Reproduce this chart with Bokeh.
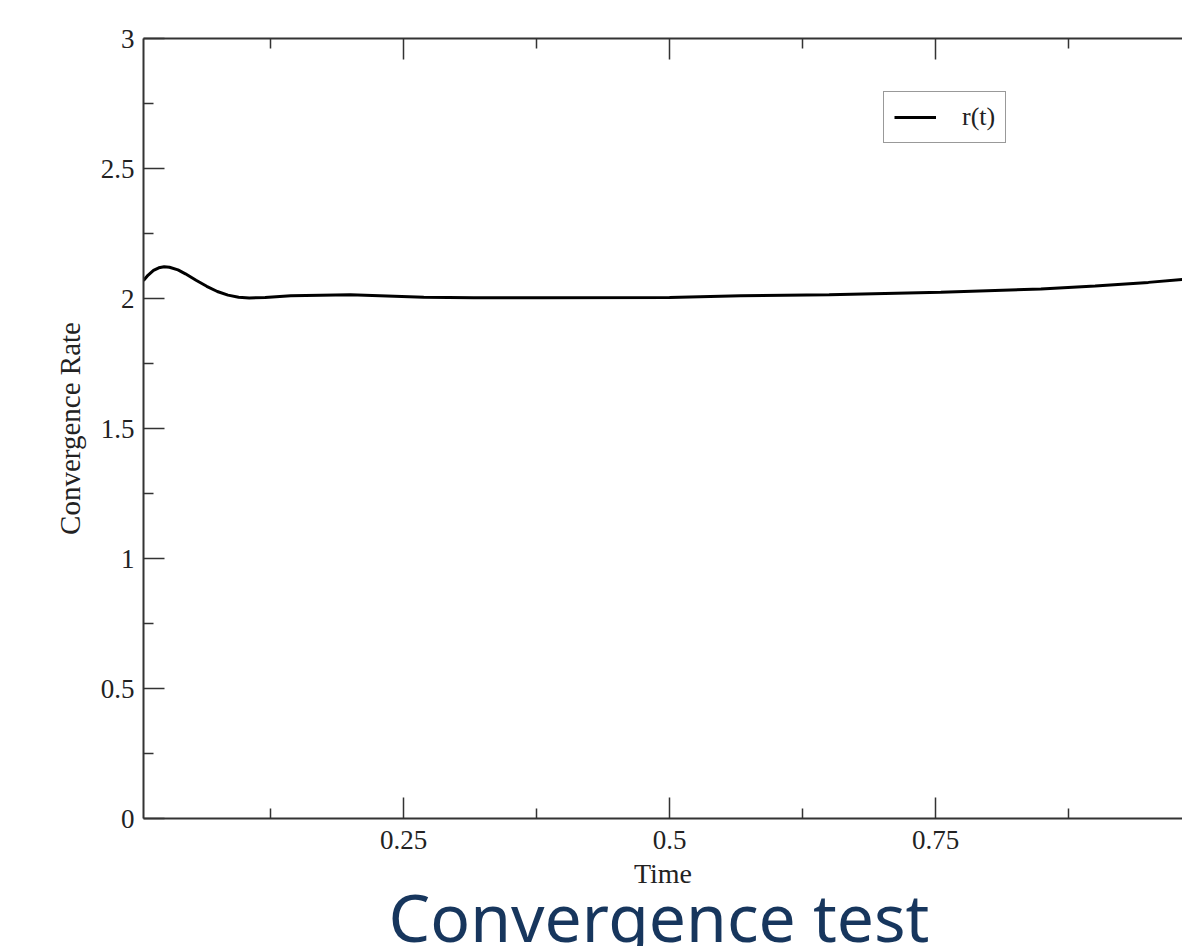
from bokeh.plotting import figure
from bokeh.models import (Range1d, FixedTicker, LinearAxis, CustomJSTickFormatter,
                          Legend, LegendItem, Title)
from bokeh.embed import file_html
from bokeh.resources import INLINE

# ---- data ----
time = [0.0056, 0.010, 0.015, 0.020, 0.025, 0.030, 0.038, 0.045, 0.055, 0.065,
        0.075, 0.085, 0.095, 0.105, 0.120, 0.144, 0.200, 0.269, 0.316, 0.379,
        0.500, 0.567, 0.650, 0.755, 0.849, 0.900, 0.950, 0.982, 1.0]
rate = [2.069, 2.090, 2.108, 2.118, 2.122, 2.120, 2.110, 2.095, 2.070, 2.047,
        2.027, 2.013, 2.005, 2.002, 2.004, 2.011, 2.014, 2.005, 2.003, 2.003,
        2.004, 2.011, 2.014, 2.024, 2.037, 2.048, 2.062, 2.073, 2.080]
series_label = "r(t)"
x_major = [0.0, 0.25, 0.5, 0.75, 1.0]
x_minor = [0.125, 0.375, 0.625, 0.875]
y_major = [0.0, 0.5, 1.0, 1.5, 2.0, 2.5, 3.0]
y_minor = [0.25, 0.75, 1.25, 1.75, 2.25, 2.75]
x_title = "Time"
y_title = "Convergence Rate"
caption = "Convergence test"

SERIF = "Liberation Serif"
AX = "#333333"

p = figure(width=1182, height=946, output_backend="svg", toolbar_location=None,
           x_range=Range1d(0.0056, 0.9821), y_range=Range1d(0, 3),
           x_axis_location=None, y_axis_location=None,
           min_border_left=143, min_border_right=0, min_border_top=38,
           min_border_bottom=128)
p.outline_line_color = None
p.xgrid.visible = False
p.ygrid.visible = False
p.background_fill_color = "white"
p.border_fill_color = "white"

fmt = CustomJSTickFormatter(code="return tick.toString();")

def style(ax, labels=True, label_size="28px"):
    ax.axis_line_color = AX
    ax.axis_line_width = 2
    ax.major_tick_line_color = AX
    ax.minor_tick_line_color = AX
    ax.major_tick_line_width = 1.5
    ax.minor_tick_line_width = 1.5
    ax.major_tick_in = 21
    ax.major_tick_out = 0
    ax.minor_tick_in = 10
    ax.minor_tick_out = 0
    ax.major_label_text_font = SERIF
    ax.major_label_text_font_size = "27px" if labels else "0px"
    ax.major_label_text_color = "#222222"
    ax.axis_label_text_font = SERIF
    ax.axis_label_text_font_size = label_size
    ax.axis_label_text_font_style = "normal"
    ax.axis_label_text_color = "#222222"

xb = LinearAxis(ticker=FixedTicker(ticks=x_major, minor_ticks=x_minor), formatter=fmt,
                axis_label=x_title)
style(xb, label_size="28px")
xb.major_label_standoff = 12
xb.axis_label_standoff = 6
p.add_layout(xb, "below")

xt = LinearAxis(ticker=FixedTicker(ticks=x_major, minor_ticks=x_minor), formatter=fmt)
style(xt, labels=False)
xt.major_label_standoff = 0
p.add_layout(xt, "above")

yl = LinearAxis(ticker=FixedTicker(ticks=y_major, minor_ticks=y_minor), formatter=fmt,
                axis_label=y_title)
style(yl, label_size="29px")
yl.major_label_standoff = 9
yl.axis_label_standoff = 12
p.add_layout(yl, "left")

r = p.line(time, rate, line_color="black", line_width=3)

legend = Legend(items=[LegendItem(label=series_label, renderers=[r])],
                location=(740, 675), orientation="vertical")
legend.border_line_color = "#333333"
legend.border_line_width = 1.5
legend.background_fill_color = "white"
legend.label_text_font = SERIF
legend.label_text_font_size = "26px"
legend.label_text_color = "#222222"
legend.glyph_width = 42
legend.glyph_height = 26
legend.label_standoff = 26
legend.padding = 10
legend.margin = 0
legend.spacing = 0
p.add_layout(legend, "center")

cap = Title(text=caption, align="left", standoff=-46, offset=245,
            text_font="Noto Sans", text_font_size="66px", text_font_style="normal",
            text_color="#17365D")
p.add_layout(cap, "below")

open("out.html", "w").write(file_html(p, INLINE))
